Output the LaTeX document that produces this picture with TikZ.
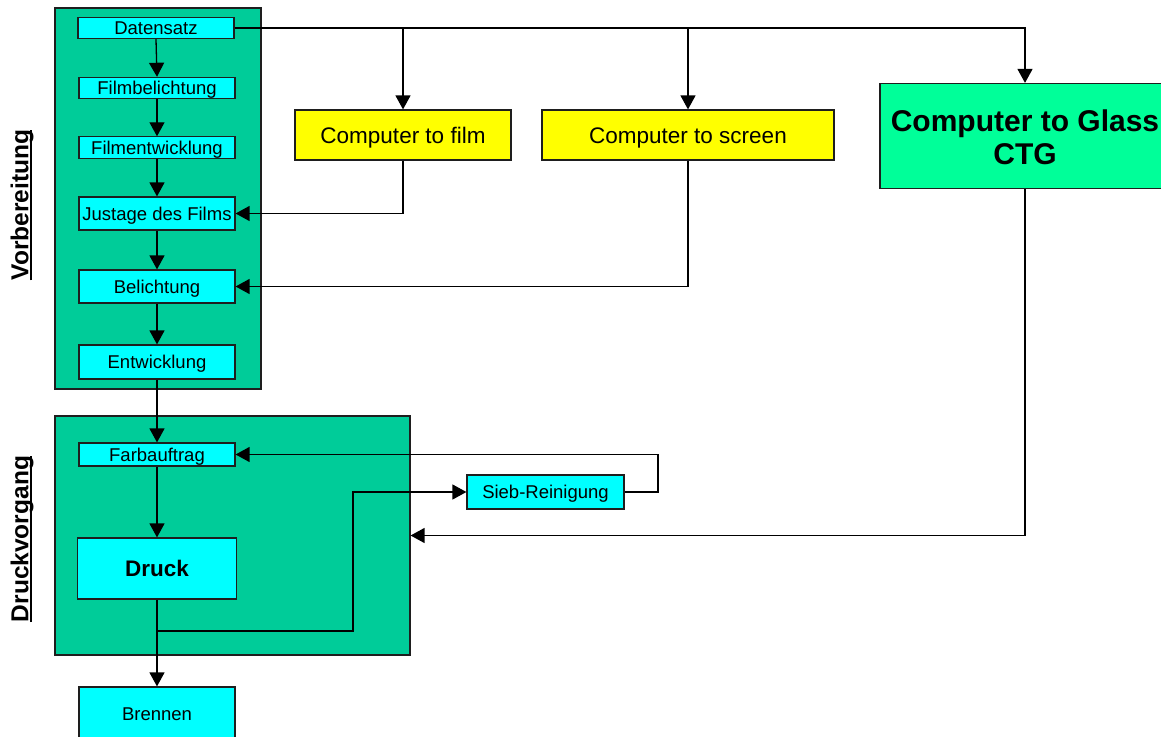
\documentclass[tikz,border=0pt]{standalone}
\usepackage{fontspec}
\setmainfont{Liberation Sans}
\usetikzlibrary{arrows.meta}
\definecolor{grp}{RGB}{0,204,153}
\definecolor{cy}{RGB}{0,255,255}
\definecolor{ye}{RGB}{255,255,0}
\definecolor{ctgc}{RGB}{0,255,153}
\definecolor{bord}{RGB}{30,30,30}
\newcommand\myul[1]{\setbox0\hbox{#1}\rlap{\rule[-4pt]{\wd0}{2pt}}\box0}
\begin{document}
\begin{tikzpicture}[x=1pt,y=-1pt,
  container/.style={draw=bord, line width=1.2pt, fill=grp, inner sep=0pt},
  sbox/.style={draw=bord, line width=1.2pt, fill=cy, inner sep=0pt,
    text height=17.25pt, text depth=4pt,
    font=\fontsize{18.5}{20}\selectfont},
  ybox/.style={draw=bord, line width=1.2pt, fill=ye, inner sep=0pt,
    text height=20.1pt, text depth=4pt,
    font=\fontsize{22.5}{24}\selectfont},
  gbox/.style={draw=bord, line width=1.2pt, fill=ctgc, inner sep=0pt, align=center,
    font=\bfseries\fontsize{30}{33}\selectfont},
  side/.style={rotate=90, inner sep=0pt, font=\bfseries\fontsize{24.5}{26}\selectfont},
  conn/.style={draw=black, line width=1.3pt},
  arr/.style={conn, -{Triangle[length=14pt,width=15pt]}}
]
\clip (0,0) rectangle (1161,736);
\useasboundingbox (0,0) rectangle (1161,736);
\fill[white] (0,0) rectangle (1161,736);

% containers
\node[container, minimum width=206, minimum height=381] (vor) at (158,198.5) {};
\node[container, minimum width=355, minimum height=239] (dru) at (232.5,535.5) {};

% side labels
\node[side] (lvor) at (22,205) {\myul{Vorbereitung}};
\node[side] (ldru) at (22,539) {\myul{Druckvorgang}};

% boxes
\node[sbox, minimum width=156, minimum height=20] (ds) at (156,28) {Datensatz};
\node[sbox, minimum width=156, minimum height=20] (fb) at (157,88) {Filmbelichtung};
\node[sbox, minimum width=156, minimum height=19] (fe) at (157,147.5) {Filmentwicklung};
\node[sbox, minimum width=156, minimum height=33] (jf) at (157,213.5) {Justage des Films};
\node[sbox, minimum width=156, minimum height=33] (bel) at (157,286.5) {Belichtung};
\node[sbox, minimum width=156, minimum height=34] (ent) at (157,362) {Entwicklung};
\node[sbox, minimum width=156, minimum height=23] (fa) at (157,454.5) {Farbauftrag};
\node[sbox, minimum width=159, minimum height=61, text height=20.1pt, font=\bfseries\fontsize{22.5}{24}\selectfont] (dr) at (157,568.5) {Druck};
\node[sbox, minimum width=156, minimum height=54] (br) at (157,714) {Brennen};
\node[sbox, minimum width=157, minimum height=34] (sr) at (545.5,492) {Sieb-Reinigung};
\node[ybox, minimum width=216, minimum height=50] (ctf) at (403,135) {Computer to film};
\node[ybox, minimum width=292, minimum height=50] (cts) at (688,135) {Computer to screen};
\node[gbox, minimum width=290, minimum height=105] (ctg) at (1025,136) {\rule{0pt}{24pt}Computer to Glass\\CTG};

% connectors
\draw[arr] (ds.east) -| (ctg.north);
\draw[arr] (ctf.north |- ds.east) -- (ctf.north);
\draw[arr] (cts.north |- ds.east) -- (cts.north);
\draw[arr] (ds.south) -- (fb.north);
\draw[arr] (fb.south) -- (fe.north);
\draw[arr] (fe.south) -- (jf.north);
\draw[arr] (jf.south) -- (bel.north);
\draw[arr] (bel.south) -- (ent.north);
\draw[arr] (ctf.south) |- (jf.east);
\draw[arr] (cts.south) |- (bel.east);
\draw[arr] (ctg.south) |- (dru.east);
\draw[arr] (ent.south) -- (fa.north);
\draw[arr] (fa.south) -- (dr.north);
\draw[arr] (dr.south) -- (br.north);
\coordinate (b2) at (353,631);
\draw[arr] (dr.south |- b2) -- (b2) |- (sr.west);
\coordinate (b3) at (658,492);
\draw[arr] (sr.east) -- (b3) |- (fa.east);
\end{tikzpicture}
\end{document}
